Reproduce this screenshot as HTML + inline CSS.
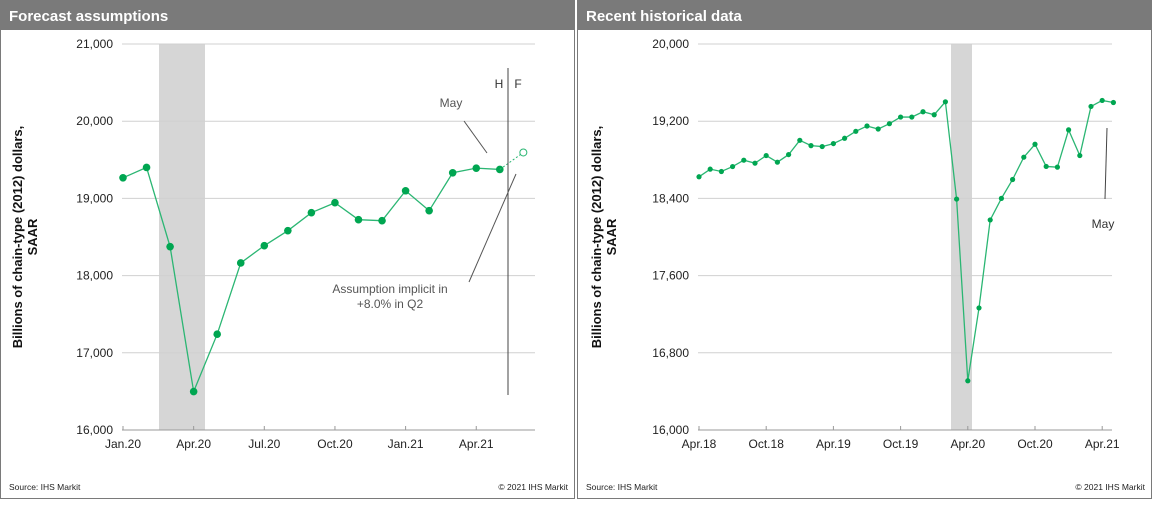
<!DOCTYPE html>
<html><head><meta charset="utf-8">
<style>
body{margin:0;width:1164px;height:510px;background:#fff;font-family:"Liberation Sans",sans-serif;overflow:hidden}
svg{display:block}
text{font-family:"Liberation Sans",sans-serif}
</style></head><body>
<svg id="s" width="1164" height="510" xmlns="http://www.w3.org/2000/svg">
<g>
<rect x="0.5" y="0.5" width="574" height="498" fill="#fff" stroke="#7a7a7a"/>
<rect x="0" y="0" width="575" height="30" fill="#7a7a7a"/>
<text x="9" y="21" fill="#fff" font-size="15" font-weight="bold">Forecast assumptions</text>
<text x="9" y="490" font-size="8.5" fill="#222">Source:  IHS Markit</text>
<text x="568" y="490" font-size="8.5" fill="#222" text-anchor="end">© 2021  IHS Markit</text>
</g>
<g>
<rect x="577.5" y="0.5" width="574" height="498" fill="#fff" stroke="#7a7a7a"/>
<rect x="577" y="0" width="575" height="30" fill="#7a7a7a"/>
<text x="586" y="21" fill="#fff" font-size="15" font-weight="bold">Recent historical data</text>
<text x="586" y="490" font-size="8.5" fill="#222">Source:  IHS Markit</text>
<text x="1145" y="490" font-size="8.5" fill="#222" text-anchor="end">© 2021  IHS Markit</text>
</g>
<g id="L"></g><g id="R"></g>
</svg>
<script>
// Left chart data (monthly, Jan.20 .. Jun.21; last value is forecast)
const leftValues=[19267,19401,18375,16498,17241,18164,18388,18582,18815,18944,18724,18711,19099,18841,19332,19392,19375];
const leftForecast=[19595];
const leftTicks=[0,3,6,9,12,15];
const leftTickLabels=["Jan.20","Apr.20","Jul.20","Oct.20","Jan.21","Apr.21"];
const leftYTicks=[16000,17000,18000,19000,20000,21000];
const leftYLabels=["16,000","17,000","18,000","19,000","20,000","21,000"];
// Right chart data (monthly, Apr.18 .. May.21)
const rightValues=[18624,18703,18679,18730,18796,18765,18844,18775,18854,19002,18947,18937,18968,19023,19095,19150,19119,19174,19243,19243,19298,19267,19401,18393,16510,17265,18177,18400,18596,18827,18961,18731,18724,19110,18844,19353,19415,19394];
const rightTicks=[0,6,12,18,24,30,36];
const rightTickLabels=["Apr.18","Oct.18","Apr.19","Oct.19","Apr.20","Oct.20","Apr.21"];
const rightYTicks=[16000,16800,17600,18400,19200,20000];
const rightYLabels=["16,000","16,800","17,600","18,400","19,200","20,000"];

const NS="http://www.w3.org/2000/svg";
function mk(p,t,a){const e=document.createElementNS(NS,t);for(const k in a)e.setAttribute(k,a[k]);p.appendChild(e);return e;}

function chart(g,o){
  const X=i=>o.x0+i*o.dx, Y=v=>o.yTop+(o.yMax-v)/(o.yMax-o.yMin)*(o.yBot-o.yTop);
  // shading
  let sh=mk(g,'rect',{x:o.shadeX0,y:o.yTop,width:o.shadeX1-o.shadeX0,height:o.yBot-o.yTop,fill:'#d6d6d6'});
  
  
  o.yTicks.forEach((v,i)=>{
    let l=mk(g,'line',{x1:o.x0-1,x2:o.xEnd,y1:Y(v),y2:Y(v),stroke:i==0?'#999':'#d0d0d0','stroke-width':1});
    
    
    let t=mk(g,'text',{x:o.x0-10,y:Y(v)+4,'font-size':12,'text-anchor':'end',fill:'#222'});t.textContent=o.yLabels[i];
    
    
  });
  o.ticks.forEach((m,i)=>{
    let l=mk(g,'line',{x1:X(m),x2:X(m),y1:o.yBot,y2:o.yBot-4,stroke:'#999'});
    
    
    let t=mk(g,'text',{x:X(m),y:o.yBot+18,'font-size':12,'text-anchor':'middle',fill:'#222'});t.textContent=o.tickLabels[i];
    
    
  });
  let yt=mk(g,'text',{transform:`translate(${o.titleX},${(o.yTop+o.yBot)/2}) rotate(-90)`,'font-size':13,'font-weight':'bold','text-anchor':'middle',fill:'#111'});
  
  
  let a=mk(yt,'tspan',{x:0,y:0});a.textContent='Billions of chain-type (2012) dollars,';
  let b=mk(yt,'tspan',{x:0,y:15});b.textContent='SAAR';
  const pts=o.values.map((v,i)=>X(i)+','+Y(v)).join(' ');
  let pl=mk(g,'polyline',{points:pts,fill:'none',stroke:'#2bb673','stroke-width':1.3});
  
  
  o.values.forEach((v,i)=>{
    let c=mk(g,'circle',{cx:X(i),cy:Y(v),r:o.r,fill:'#00a651'});
    
    
  });
  return {X,Y};
}

const L=document.getElementById('L');
const lc=chart(L,{x0:123,dx:23.55,xEnd:535,yTop:44,yBot:430,yMin:16000,yMax:21000,values:leftValues,ticks:leftTicks,tickLabels:leftTickLabels,yTicks:leftYTicks,yLabels:leftYLabels,shadeX0:159,shadeX1:205,titleX:22,r:3.8});
const n=leftValues.length;
leftForecast.forEach((v,k)=>{
  let d=mk(L,'line',{x1:lc.X(n-1+k),y1:lc.Y(k==0?leftValues[n-1]:leftForecast[k-1]),x2:lc.X(n+k),y2:lc.Y(v),stroke:'#2bb673','stroke-width':1,'stroke-dasharray':'2,2'});
  
  
  let c=mk(L,'circle',{cx:lc.X(n+k),cy:lc.Y(v),r:3.5,fill:'#fff',stroke:'#2bb673','stroke-width':1});
  
  
});
L.insertAdjacentHTML('beforeend',`
<line x1="508" y1="68" x2="508" y2="395" stroke="#444"/>
<text x="499" y="88" font-size="12" text-anchor="middle" fill="#333">H</text>
<text x="518" y="88" font-size="12" text-anchor="middle" fill="#333">F</text>
<text x="451" y="107" font-size="12" text-anchor="middle" fill="#555">May</text>
<line x1="464" y1="121" x2="487" y2="153" stroke="#555"/>
<text x="390" y="293" font-size="12" text-anchor="middle" fill="#555"><tspan x="390" y="293">Assumption implicit in</tspan><tspan x="390" y="308">+8.0%  in Q2</tspan></text>
<line x1="516" y1="174" x2="469" y2="282" stroke="#555"/>`);

const R=document.getElementById('R');
chart(R,{x0:699,dx:11.2,xEnd:1112,yTop:44,yBot:430,yMin:16000,yMax:20000,values:rightValues,ticks:rightTicks,tickLabels:rightTickLabels,yTicks:rightYTicks,yLabels:rightYLabels,shadeX0:951,shadeX1:972,titleX:601,r:2.6});
R.insertAdjacentHTML('beforeend',`
<line x1="1107" y1="128" x2="1105" y2="199" stroke="#444"/>
<text x="1103" y="228" font-size="12" text-anchor="middle" fill="#333">May</text>`);
</script>
</body></html>
